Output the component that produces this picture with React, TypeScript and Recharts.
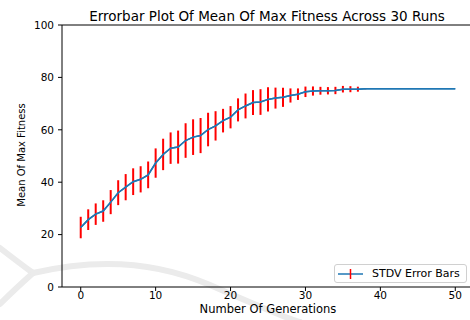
import React from 'react';
import {
  ComposedChart,
  Line,
  ErrorBar,
  XAxis,
  YAxis,
  ReferenceLine,
  Customized,
} from 'recharts';

const FONT = '"DejaVu Sans", sans-serif';

// generation index along the x axis
const generations = [
  0, 1, 2, 3, 4, 5, 6, 7, 8, 9, 10, 11, 12, 13, 14, 15, 16, 17, 18, 19, 20,
  21, 22, 23, 24, 25, 26, 27, 28, 29, 30, 31, 32, 33, 34, 35, 36, 37, 38, 39,
  40, 41, 42, 43, 44, 45, 46, 47, 48, 49, 50,
];

// mean of max fitness across the 30 runs
const meanFitness = [
  22.7, 25.7, 27.8, 29.0, 32.4, 36.0, 38.1, 40.2, 41.1, 42.8, 47.3, 50.6,
  53.0, 53.4, 55.9, 57.2, 57.8, 60.1, 61.5, 63.5, 64.8, 67.6, 69.1, 70.4,
  70.6, 71.6, 72.1, 72.4, 73.1, 73.6, 74.5, 74.8, 74.9, 74.9, 75.0, 75.5,
  75.5, 75.5, 75.7, 75.7, 75.7, 75.7, 75.7, 75.7, 75.7, 75.7, 75.7, 75.7,
  75.7, 75.7, 75.7,
];

// standard deviation (half the error bar length)
const stdDev = [
  4.1, 3.95, 4.1, 4.1, 4.6, 4.75, 5.0, 5.1, 5.0, 5.1, 5.6, 6.0, 6.0, 6.3,
  6.6, 6.8, 6.7, 6.4, 5.6, 4.5, 4.25, 4.4, 4.75, 4.75, 4.9, 4.6, 4.0, 3.65,
  2.7, 2.2, 2.0, 1.75, 1.5, 1.4, 1.4, 1.25, 1.15, 0.95, 0.25, 0, 0, 0, 0, 0,
  0, 0, 0, 0, 0, 0, 0,
];

const xTicks = [0, 10, 20, 30, 40, 50];
const yTicks = [0, 20, 40, 60, 80, 100];

const data = generations.map((g, i) => ({
  gen: g,
  mean: meanFitness[i],
  err: stdDev[i],
}));

// faint background watermark plus the title / axis titles
function Decorations() {
  return (
    <g>
      <g fill="none" stroke="#ebebeb" strokeWidth={6} strokeLinecap="round">
        <path d="M0,248 Q18,262 33,273" />
        <path d="M33,273 Q14,290 0,304" />
        <path d="M33,273 Q130,250 210,285 T300,322" />
      </g>
      <text x={267} y={20.5} textAnchor="middle" fontSize={13.5} fontFamily={FONT} fill="#000">
        Errorbar Plot Of Mean Of Max Fitness Across 30 Runs
      </text>
      <text x={268} y={313} textAnchor="middle" fontSize={11.5} fontFamily={FONT} fill="#000">
        Number Of Generations
      </text>
      <text
        x={25}
        y={155}
        textAnchor="middle"
        fontSize={10}
        fontFamily={FONT}
        fill="#000"
        transform="rotate(-90 25 155)"
      >
        Mean Of Max Fitness
      </text>
    </g>
  );
}

function LegendBox() {
  return (
    <div
      style={{
        position: 'absolute',
        left: 334,
        top: 264,
        display: 'flex',
        alignItems: 'center',
        boxSizing: 'border-box',
        height: 19,
        width: 133,
        border: '1px solid #d0d0d0',
        borderRadius: 3,
        background: '#fff',
        fontFamily: FONT,
        fontSize: 11,
        color: '#000',
      }}
    >
      <svg width={30} height={16} style={{ marginLeft: 2 }}>
        <line x1={1} y1={8} x2={26} y2={8} stroke="#1f77b4" strokeWidth={1.5} />
        <line x1={13.5} y1={3} x2={13.5} y2={13} stroke="red" strokeWidth={1.5} />
      </svg>
      <span style={{ marginLeft: 5 }}>STDV Error Bars</span>
    </div>
  );
}

export default function App() {
  return (
    <div style={{ position: 'absolute', left: 0, top: 0, width: 470, height: 320, overflow: 'hidden', background: '#fff' }}>
      <ComposedChart
        width={480}
        height={320}
        data={data}
        margin={{ top: 25, right: 6, bottom: 13, left: 22 }}
      >
        <Customized component={Decorations} />
        <XAxis
          dataKey="gen"
          type="number"
          domain={[-2.5, 52.5]}
          ticks={xTicks}
          height={20}
          tickSize={4}
          tickMargin={1}
          axisLine={{ stroke: '#000', strokeWidth: 1 }}
          tickLine={{ stroke: '#000' }}
          tick={{ fill: '#000', fontSize: 10.5, fontFamily: FONT }}
        />
        <YAxis
          type="number"
          domain={[0, 100]}
          ticks={yTicks}
          width={40}
          tickSize={4}
          tickMargin={4}
          axisLine={{ stroke: '#000', strokeWidth: 1 }}
          tickLine={{ stroke: '#000' }}
          tick={{ fill: '#000', fontSize: 10.5, fontFamily: FONT }}
        />
        <ReferenceLine y={100} stroke="#000" strokeWidth={1} />
        <Line
          dataKey="mean"
          stroke="#1f77b4"
          strokeWidth={1.5}
          dot={false}
          isAnimationActive={false}
          legendType="none"
        >
          <ErrorBar dataKey="err" direction="y" width={0} stroke="red" strokeWidth={2} />
        </Line>
        <Line
          dataKey="mean"
          stroke="#1f77b4"
          strokeWidth={1.5}
          dot={false}
          isAnimationActive={false}
          legendType="none"
        />
      </ComposedChart>
      <LegendBox />
    </div>
  );
}
